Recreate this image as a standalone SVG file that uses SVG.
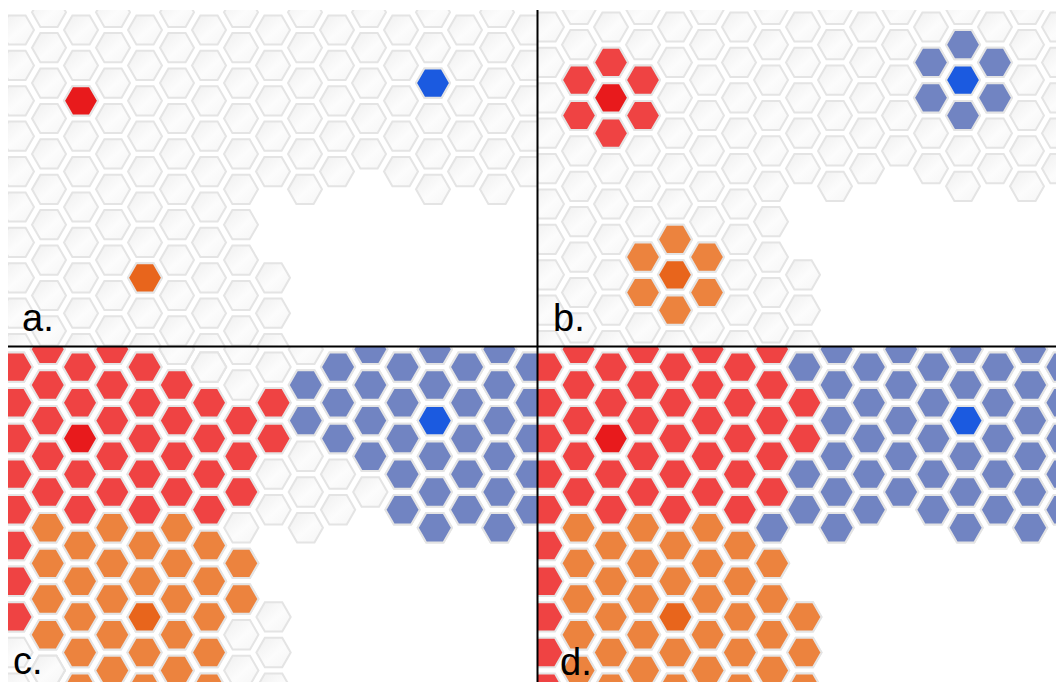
<svg xmlns="http://www.w3.org/2000/svg" xmlns:xlink="http://www.w3.org/1999/xlink" width="1056" height="682" viewBox="0 0 1056 682">
<style>
.r{fill:#ef4343}.o{fill:#ec833e}.b{fill:#7184c2}.g{fill:url(#gg)}
.rs{fill:#e81a1c}.os{fill:#e8651c}.bs{fill:#1b5ae0}
.lbl{font-family:"Liberation Sans",Arial,sans-serif;font-size:38px;fill:#000}
.sep{stroke:#000;stroke-width:2}
</style>
<defs>
<linearGradient id="gg" x1="0" y1="0" x2="1" y2="1">
<stop offset="0" stop-color="#efefef"/><stop offset="0.55" stop-color="#fcfcfc"/><stop offset="1" stop-color="#f5f5f5"/>
</linearGradient>
<polygon id="h" points="-17,0 -8.6,-14.6 8.6,-14.6 17,0 8.6,14.6 -8.6,14.6" stroke="#e4e4e4" stroke-width="2"/>
<g id="e5"><use href="#h" y="0"/><use href="#h" y="35.4"/><use href="#h" y="70.8"/><use href="#h" y="106.2"/><use href="#h" y="141.6"/></g>
<g id="eL"><use href="#h" y="177"/><use href="#h" y="212.4"/><use href="#h" y="247.8"/><use href="#h" y="283.2"/><use href="#h" y="318.6"/></g>
<g id="o5"><use href="#h" y="-17.7"/><use href="#h" y="17.7"/><use href="#h" y="53.1"/><use href="#h" y="88.5"/><use href="#h" y="123.9"/></g>
<g id="oL"><use href="#h" y="159.3"/><use href="#h" y="194.7"/><use href="#h" y="230.1"/><use href="#h" y="265.5"/><use href="#h" y="300.9"/></g>
<g id="o6"><use href="#o5"/><use href="#h" y="159.3"/></g>
<g id="grid">
<use href="#e5" x="0"/><use href="#eL" x="0"/>
<use href="#o5" x="32"/><use href="#oL" x="32"/>
<use href="#e5" x="64"/><use href="#eL" x="64"/>
<use href="#o5" x="96"/><use href="#oL" x="96"/>
<use href="#e5" x="128"/><use href="#eL" x="128"/>
<use href="#o5" x="160"/><use href="#oL" x="160"/>
<use href="#e5" x="192"/><use href="#eL" x="192"/>
<use href="#o5" x="224"/><use href="#oL" x="224"/>
<use href="#e5" x="256"/><use href="#h" x="256" y="247.8"/><use href="#h" x="256" y="283.2"/><use href="#h" x="256" y="318.6"/>
<use href="#o6" x="288"/>
<use href="#e5" x="320"/>
<use href="#o5" x="352"/>
<use href="#e5" x="384"/>
<use href="#o6" x="416"/>
<use href="#e5" x="448"/>
<use href="#o6" x="480"/>
<use href="#e5" x="512"/>
</g>
<clipPath id="ca"><rect x="8" y="10" width="529" height="336"/></clipPath>
<clipPath id="cb"><rect x="538" y="10" width="518" height="336"/></clipPath>
<clipPath id="cc"><rect x="8" y="347" width="529" height="335"/></clipPath>
<clipPath id="cd"><rect x="538" y="347" width="518" height="335"/></clipPath>
</defs>
<rect width="1056" height="682" fill="#fff"/>

<g id="panel-a" clip-path="url(#ca)"><g transform="translate(17,30)">
<use href="#grid" class="g"/>
<use href="#h" class="rs" x="64" y="70.8"/>
<use href="#h" class="bs" x="416" y="53.1"/>
<use href="#h" class="os" x="128" y="247.8"/>
</g></g>

<g id="panel-b" clip-path="url(#cb)"><g transform="translate(547,27)">
<use href="#grid" class="g"/>
<use href="#h" class="r" x="64" y="35.4"/><use href="#h" class="r" x="64" y="106.2"/><use href="#h" class="r" x="32" y="53.1"/><use href="#h" class="r" x="32" y="88.5"/><use href="#h" class="r" x="96" y="53.1"/><use href="#h" class="r" x="96" y="88.5"/>
<use href="#h" class="rs" x="64" y="70.8"/>
<use href="#h" class="b" x="416" y="17.7"/><use href="#h" class="b" x="416" y="88.5"/><use href="#h" class="b" x="384" y="35.4"/><use href="#h" class="b" x="384" y="70.8"/><use href="#h" class="b" x="448" y="35.4"/><use href="#h" class="b" x="448" y="70.8"/>
<use href="#h" class="bs" x="416" y="53.1"/>
<use href="#h" class="o" x="128" y="212.4"/><use href="#h" class="o" x="128" y="283.2"/><use href="#h" class="o" x="96" y="230.1"/><use href="#h" class="o" x="96" y="265.5"/><use href="#h" class="o" x="160" y="230.1"/><use href="#h" class="o" x="160" y="265.5"/>
<use href="#h" class="os" x="128" y="247.8"/>
</g></g>

<g id="panel-c" clip-path="url(#cc)"><g transform="translate(15.5,367.1) scale(1.008)">
<use href="#grid" class="g"/>
<g class="r">
<use href="#e5" x="0"/><use href="#o5" x="32"/><use href="#e5" x="64"/><use href="#o5" x="96"/><use href="#e5" x="128"/><use href="#o5" x="160"/><use href="#e5" x="192"/>
<use href="#h" x="0" y="177"/><use href="#h" x="0" y="212.4"/><use href="#h" x="0" y="247.8"/>
<use href="#h" x="224" y="53.1"/><use href="#h" x="224" y="88.5"/><use href="#h" x="224" y="123.9"/>
<use href="#h" x="256" y="35.4"/><use href="#h" x="256" y="70.8"/>
</g>
<g class="g"><use href="#h" x="160" y="-17.7"/><use href="#h" x="192" y="0"/></g>
<g class="o">
<use href="#oL" x="32"/><use href="#eL" x="64"/><use href="#oL" x="96"/><use href="#eL" x="128"/><use href="#oL" x="160"/><use href="#eL" x="192"/>
<use href="#h" x="224" y="194.7"/><use href="#h" x="224" y="230.1"/>
</g>
<g class="g"><use href="#h" x="32" y="300.9"/></g>
<g class="b">
<use href="#h" x="288" y="17.7"/><use href="#h" x="288" y="53.1"/>
<use href="#h" x="320" y="0"/><use href="#h" x="320" y="35.4"/><use href="#h" x="320" y="70.8"/>
<use href="#h" x="352" y="-17.7"/><use href="#h" x="352" y="17.7"/><use href="#h" x="352" y="53.1"/><use href="#h" x="352" y="88.5"/>
<use href="#e5" x="384"/><use href="#o6" x="416"/><use href="#e5" x="448"/><use href="#o6" x="480"/><use href="#e5" x="512"/>
</g>
<use href="#h" class="rs" x="64" y="70.8"/>
<use href="#h" class="bs" x="416" y="53.1"/>
<use href="#h" class="os" x="128" y="247.8"/>
</g></g>

<g id="panel-d" clip-path="url(#cd)"><g transform="translate(546.3,367.1) scale(1.008)">
<use href="#grid" class="r"/>
<g class="o">
<use href="#oL" x="32"/><use href="#eL" x="64"/><use href="#oL" x="96"/><use href="#eL" x="128"/><use href="#oL" x="160"/><use href="#eL" x="192"/>
<use href="#h" x="224" y="194.7"/><use href="#h" x="224" y="230.1"/><use href="#h" x="224" y="265.5"/><use href="#h" x="224" y="300.9"/>
<use href="#h" x="256" y="247.8"/><use href="#h" x="256" y="283.2"/><use href="#h" x="256" y="318.6"/>
</g>
<g class="b">
<use href="#h" x="224" y="159.3"/>
<use href="#h" x="256" y="0"/><use href="#h" x="256" y="106.2"/><use href="#h" x="256" y="141.6"/>
<use href="#o6" x="288"/><use href="#e5" x="320"/><use href="#o5" x="352"/><use href="#e5" x="384"/><use href="#o6" x="416"/><use href="#e5" x="448"/><use href="#o6" x="480"/><use href="#e5" x="512"/>
</g>
<use href="#h" class="rs" x="64" y="70.8"/>
<use href="#h" class="bs" x="416" y="53.1"/>
<use href="#h" class="os" x="128" y="247.8"/>
</g></g>

<g id="separators">
<line class="sep" x1="537.5" y1="10" x2="537.5" y2="682"/>
<line class="sep" x1="8" y1="346.5" x2="1056" y2="346.5"/>
</g>
<g id="labels">
<text class="lbl" x="22" y="331">a.</text>
<text class="lbl" x="553" y="331">b.</text>
<text class="lbl" x="13" y="674">c.</text>
<text class="lbl" x="560" y="675">d.</text>
</g>
</svg>
